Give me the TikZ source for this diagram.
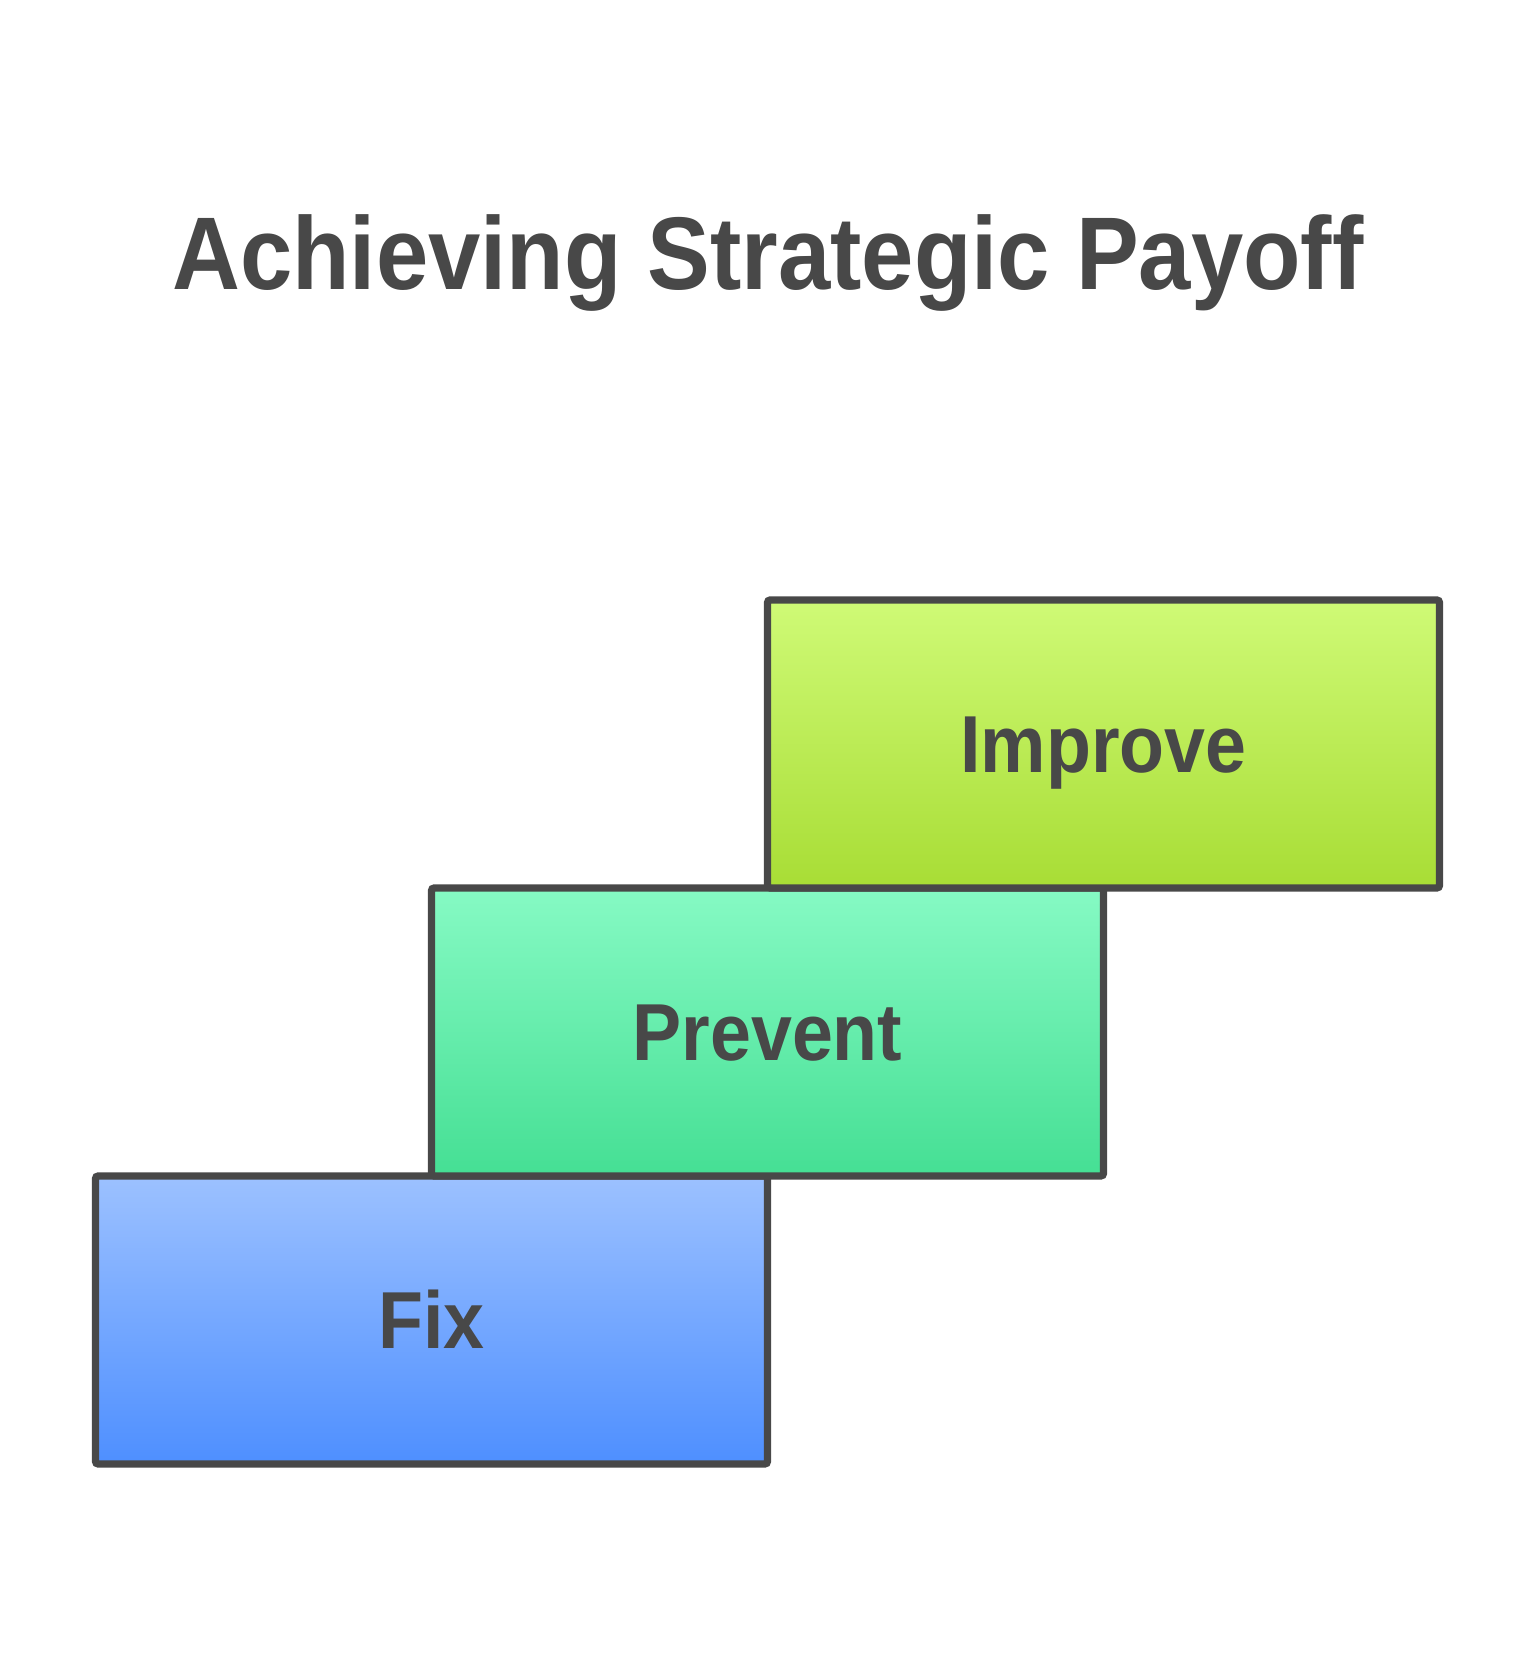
\documentclass[tikz,border=0pt]{standalone}
\usepackage{fontspec}
\setmainfont{Liberation Sans}[FakeStretch=0.91]
\usetikzlibrary{positioning}
\definecolor{inkgray}{HTML}{484848}
\definecolor{fixtop}{HTML}{9CC1FF}
\definecolor{fixbot}{HTML}{4E8FFF}
\definecolor{preventtop}{HTML}{86FAC4}
\definecolor{preventbot}{HTML}{45DF94}
\definecolor{improvetop}{HTML}{CFFA76}
\definecolor{improvebot}{HTML}{A8DD35}

\begin{document}
\begin{tikzpicture}[
    stepbox/.style={draw=inkgray, line width=2.1pt, rounded corners=0.8pt,
        minimum width=6.72cm, minimum height=2.88cm,
        inner sep=0pt, outer sep=0pt, anchor=south west,
        text=inkgray, font=\bfseries\fontsize{23}{27}\selectfont,
        text height=0.58cm, text depth=0pt},
    titletext/.style={text=inkgray, anchor=base,
        font=\bfseries\fontsize{29.4}{34}\selectfont}
]
    % 画布大小
    \useasboundingbox (0, 0) rectangle (15.36, 16.56);

    \node[titletext] (title) at (7.68, 13.66) {Achieving Strategic Payoff};

    % 第一级台阶
    \coordinate (start) at (0.955, 1.92);
    \node[stepbox, top color=fixtop, bottom color=fixbot]
         (fix) at (start) {Fix};

    % 每一级从上一级顶边中点开始
    \node[stepbox, top color=preventtop, bottom color=preventbot]
         (prevent) at (fix.north) {Prevent};
    \node[stepbox, top color=improvetop, bottom color=improvebot]
         (improve) at (prevent.north) {Improve};
\end{tikzpicture}
\end{document}
